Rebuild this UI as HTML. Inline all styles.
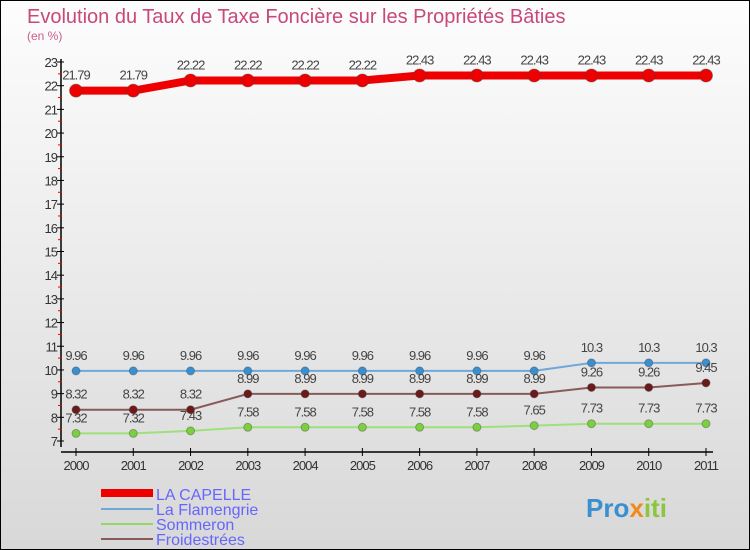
<!DOCTYPE html>
<html><head><meta charset="utf-8"><style>
body{margin:0}
#wrap{width:748px;height:548px;border:1px solid #000;background:linear-gradient(#fdfdfd,#d8d8d8);position:relative;overflow:hidden;font-family:"Liberation Sans",sans-serif}
</style></head><body>
<div id="wrap">
<svg id="chart" width="750" height="550">
<text x="26" y="22" font-size="20" fill="#c8487a">Evolution du Taux de Taxe Foncière sur les Propriétés Bâties</text>
<text x="26" y="39" font-size="12" fill="#c8608a">(en %)</text>
<g id="axes"></g><g id="series"></g>
<g>
<rect x="100" y="488" width="52" height="8" fill="#e00"/>
<text x="155" y="499" font-size="16" fill="#66f">LA CAPELLE</text>
<rect x="100" y="507" width="52" height="2" fill="#6fa8d8"/>
<text x="155" y="514" font-size="16" fill="#66f">La Flamengrie</text>
<rect x="100" y="522" width="52" height="2" fill="#8fd86a"/>
<text x="155" y="529" font-size="16" fill="#66f">Sommeron</text>
<rect x="100" y="537" width="52" height="2" fill="#8a5a5a"/>
<text x="155" y="544" font-size="16" fill="#66f">Froidestrées</text>
</g>
<text x="585" y="516" font-size="26" font-weight="bold"><tspan fill="#3a8fd0">Pro</tspan><tspan fill="#f08a1c">x</tspan><tspan fill="#8cc63f">iti</tspan></text>
</svg>
</div>
<script>
const years=[2000,2001,2002,2003,2004,2005,2006,2007,2008,2009,2010,2011];
const laCapelle=[21.79,21.79,22.22,22.22,22.22,22.22,22.43,22.43,22.43,22.43,22.43,22.43];
const laFlamengrie=[9.96,9.96,9.96,9.96,9.96,9.96,9.96,9.96,9.96,10.3,10.3,10.3];
const sommeron=[7.32,7.32,7.43,7.58,7.58,7.58,7.58,7.58,7.65,7.73,7.73,7.73];
const froidestrees=[8.32,8.32,8.32,8.99,8.99,8.99,8.99,8.99,8.99,9.26,9.26,9.45];
const yTicks=[7,8,9,10,11,12,13,14,15,16,17,18,19,20,21,22,23];
const NS='http://www.w3.org/2000/svg';
const x=i=>75+i*(705-75)/(years.length-1);
const y=v=>440-(v-7)*(440-61)/16;
function mk(tag,attrs,parent){const e=document.createElementNS(NS,tag);for(const k in attrs)e.setAttribute(k,attrs[k]);parent.appendChild(e);return e;}
const ax=document.getElementById('axes');
let l=mk('line',{x1:60,y1:58,x2:60,y2:446,stroke:'#000','stroke-width':1.5},ax);


l=mk('line',{x1:60,y1:451,x2:712,y2:451,stroke:'#000','stroke-width':1.5},ax);


yTicks.forEach(t=>{
  const m=mk('line',{x1:56,x2:63,y1:y(t),y2:y(t),stroke:'#000'},ax);
  
  
  if(t<23){const r=mk('line',{x1:57,x2:61,y1:y(t+0.5),y2:y(t+0.5),stroke:'#e00'},ax);
  
  }
  const tx=mk('text',{x:56,y:y(t)+5,'text-anchor':'end','font-size':13,fill:'#333','letter-spacing':'-1'},ax);
  tx.textContent=t;
  
  
});
years.forEach((yr,i)=>{
  const m=mk('line',{x1:x(i),x2:x(i),y1:447,y2:455,stroke:'#000'},ax);
  
  
  const tx=mk('text',{x:x(i),y:469,'text-anchor':'middle','font-size':13,fill:'#333','letter-spacing':'-1'},ax);
  tx.textContent=yr;
  
  
});
const sg=document.getElementById('series');
function draw(vals,name,color,w,r,dot){
  const g=mk('g',{},sg);
  
  
  const p=mk('polyline',{points:vals.map((v,i)=>x(i)+','+y(v)).join(' '),fill:'none',stroke:color,'stroke-width':w},g);
  
  
  vals.forEach((v,i)=>{
    const c=mk('circle',{cx:x(i),cy:y(v),r:r,fill:dot,stroke:'#444','stroke-opacity':0.4},g);
    
    
    const t=mk('text',{x:x(i),y:y(v)-11,'text-anchor':'middle','font-size':13,fill:'#444','letter-spacing':'-1'},g);
    t.textContent=v;
    
    
  });
}
draw(laFlamengrie,'la-flamengrie','#6fa8d8',2,4,'#3a8fd0');
draw(sommeron,'sommeron','#9ee07a',2,4,'#7cd040');
draw(froidestrees,'froidestrees','#8a5a5a',2,4,'#6a1a1a');
draw(laCapelle,'la-capelle','#e00',8,6.5,'#e00');
</script>
</body></html>
